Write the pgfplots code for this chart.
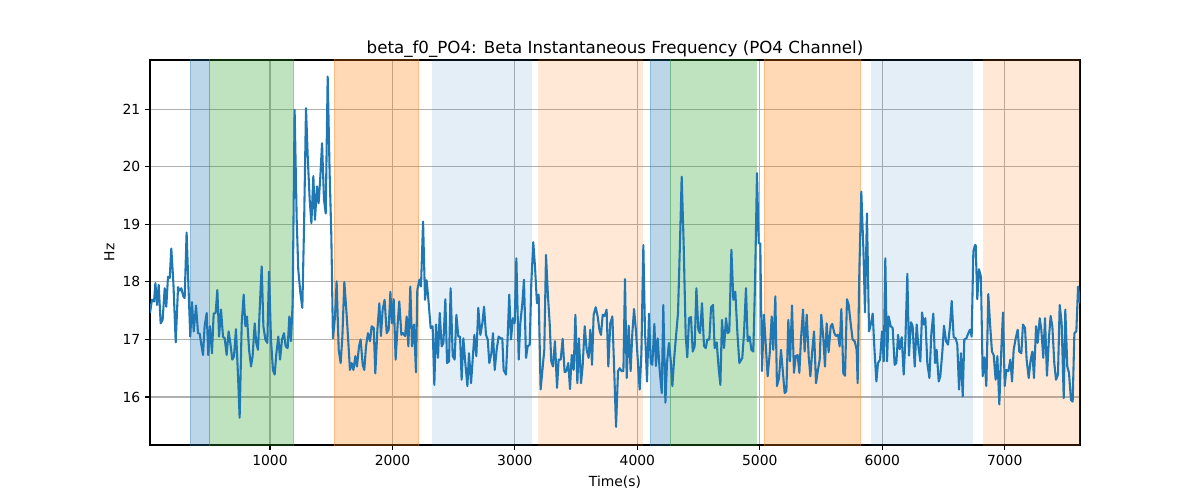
\documentclass[border=0pt]{standalone}
\usepackage{fontspec}
\setmainfont{DejaVu Sans}
\usepackage{pgfplots}
\pgfplotsset{compat=1.18}
\definecolor{mplblue}{HTML}{1F77B4}
\definecolor{mplorange}{HTML}{FF7F0E}
\definecolor{mplgreen}{HTML}{2CA02C}
\definecolor{gridgray}{HTML}{B0B0B0}

\begin{document}
\begin{tikzpicture}
\begin{axis}[
  at={(108pt,39.6pt)}, anchor=south west,
  width=669.6pt, height=277.2pt, scale only axis,
  xmin=20, xmax=7615, ymin=15.166, ymax=21.857,
  xtick={1000,2000,...,7000}, ytick={16,17,...,21},
  grid=major, grid style={gridgray, line width=0.8pt},
  axis line style={line width=0.8pt},
  tick align=outside, major tick length=3.5pt,
  tick style={black, line width=0.8pt},
  xtick pos=bottom, ytick pos=left,
  tick label style={font=\fontsize{10}{12}\selectfont},
  /pgf/number format/assume math mode=true,
  /pgf/number format/1000 sep={},
  xlabel={Time(s)}, ylabel={Hz},
  label style={font=\fontsize{10}{12}\selectfont},
  xlabel style={yshift=-0.5pt},
  ylabel style={yshift=-1pt},
  title={beta\_f0\_PO4: Beta Instantaneous Frequency (PO4 Channel)},
  title style={font=\fontsize{12}{14}\selectfont, yshift=-7.5pt},
]
% shaded spans
\addplot[fill=mplblue, fill opacity=0.3, draw=mplblue, draw opacity=0.3] coordinates {(347,15) (347,22) (507,22) (507,15)} -- cycle;
\addplot[fill=mplgreen, fill opacity=0.3, draw=mplgreen, draw opacity=0.3] coordinates {(507,15) (507,22) (1192,22) (1192,15)} -- cycle;
\addplot[fill=mplorange, fill opacity=0.3, draw=mplorange, draw opacity=0.3] coordinates {(1523,15) (1523,22) (2214,22) (2214,15)} -- cycle;
\addplot[fill=mplblue, fill opacity=0.12, draw=none] coordinates {(2325,15) (2325,22) (3140,22) (3140,15)} -- cycle;
\addplot[fill=mplorange, fill opacity=0.17, draw=none] coordinates {(3189,15) (3189,22) (4043,22) (4043,15)} -- cycle;
\addplot[fill=mplblue, fill opacity=0.3, draw=mplblue, draw opacity=0.3] coordinates {(4103,15) (4103,22) (4267,22) (4267,15)} -- cycle;
\addplot[fill=mplgreen, fill opacity=0.3, draw=mplgreen, draw opacity=0.3] coordinates {(4267,15) (4267,22) (4972,22) (4972,15)} -- cycle;
\addplot[fill=mplorange, fill opacity=0.3, draw=mplorange, draw opacity=0.3] coordinates {(5034,15) (5034,22) (5824,22) (5824,15)} -- cycle;
\addplot[fill=mplblue, fill opacity=0.12, draw=none] coordinates {(5911,15) (5911,22) (6739,22) (6739,15)} -- cycle;
\addplot[fill=mplorange, fill opacity=0.17, draw=none] coordinates {(6823,15) (6823,22) (7615,22) (7615,15)} -- cycle;
% signal
\addplot[mplblue, line width=1.5pt, line join=round, mark=none] coordinates {
(20,17.46) (36,17.69) (53,17.66) (64,17.98) (77,17.60) (91,17.95) (107,17.28) (123,17.34)
(140,17.89) (153,17.57) (167,18.09) (181,18.07) (194,18.58) (211,17.98) (230,16.95) (249,17.91)
(262,17.85) (276,17.89) (292,17.75) (303,17.72) (319,18.86) (333,17.98) (349,17.05) (363,17.65)
(377,17.14) (396,17.59) (412,17.11) (426,17.10) (439,16.91) (453,16.73) (466,17.23) (483,17.46)
(496,16.73) (510,17.23) (526,16.76) (540,17.45) (556,17.46) (570,17.86) (584,17.05) (600,17.52)
(616,17.05) (630,17.02) (646,16.73) (662,17.14) (676,16.94) (692,16.65) (706,16.71) (722,17.18)
(739,16.36) (752,15.64) (769,17.28) (785,17.78) (799,17.23) (812,17.40) (829,16.82) (845,16.53)
(858,16.71) (875,17.28) (888,16.94) (902,16.82) (918,17.63) (932,18.27) (946,17.23) (962,17.00)
(978,16.94) (992,18.18) (1008,17.00) (1024,16.47) (1038,16.39) (1052,16.76) (1068,17.05) (1082,16.65)
(1098,17.00) (1114,17.11) (1128,16.88) (1144,16.85) (1158,17.40) (1171,16.97) (1185,17.63) (1201,20.99)
(1218,19.08) (1231,18.21) (1248,17.81) (1264,17.55) (1278,18.96) (1294,21.02) (1308,20.18) (1324,19.43)
(1338,19.02) (1354,19.84) (1367,19.08) (1384,19.66) (1397,19.37) (1411,19.83) (1425,20.41) (1441,19.43)
(1455,19.19) (1471,21.57) (1487,19.89) (1501,18.79) (1514,17.02) (1531,17.40) (1544,18.01) (1561,16.82)
(1577,16.59) (1591,17.05) (1607,18.00) (1623,17.52) (1637,17.05) (1653,16.47) (1667,16.59) (1681,16.47)
(1697,16.71) (1710,16.53) (1727,16.88) (1740,17.00) (1757,16.56) (1770,16.47) (1784,16.88) (1800,17.11)
(1817,16.97) (1830,17.23) (1847,17.20) (1860,16.41) (1877,17.17) (1893,17.63) (1906,17.06) (1920,17.52)
(1936,17.69) (1953,17.11) (1969,17.17) (1983,17.83) (1996,17.28) (2010,17.70) (2026,16.65) (2043,17.28)
(2056,17.66) (2073,17.08) (2086,17.11) (2103,17.06) (2116,17.40) (2130,16.88) (2146,17.92) (2160,16.88)
(2176,17.26) (2192,16.43) (2203,17.86) (2220,18.04) (2233,17.92) (2250,19.05) (2266,17.69) (2279,18.03)
(2296,17.63) (2312,17.20) (2328,17.23) (2342,16.21) (2356,17.26) (2372,16.68) (2386,17.46) (2402,16.88)
(2416,16.94) (2432,17.70) (2446,16.59) (2462,16.62) (2475,17.89) (2492,16.71) (2508,16.65) (2522,17.43)
(2538,17.05) (2552,17.05) (2565,16.30) (2579,17.02) (2595,16.59) (2612,16.19) (2625,16.76) (2642,16.24)
(2655,16.65) (2669,17.08) (2685,16.71) (2701,17.55) (2718,17.08) (2734,17.28) (2748,17.57) (2764,17.08)
(2778,17.00) (2791,16.59) (2808,16.76) (2821,17.11) (2835,16.47) (2851,16.82) (2867,17.05) (2884,17.02)
(2897,17.02) (2908,16.47) (2927,16.39) (2941,17.05) (2954,17.78) (2968,17.00) (2984,17.37) (2998,17.28)
(3012,18.41) (3031,16.65) (3044,17.28) (3061,17.63) (3074,18.04) (3091,16.68) (3104,16.88) (3121,16.91)
(3134,17.98) (3150,18.69) (3164,18.27) (3180,17.63) (3194,17.78) (3210,16.13) (3224,16.45) (3240,16.82)
(3254,18.47) (3270,17.75) (3284,17.28) (3297,16.62) (3311,16.53) (3327,16.97) (3344,16.16) (3357,16.65)
(3374,16.65) (3390,17.01) (3406,16.43) (3420,16.45) (3436,16.59) (3450,16.14) (3464,16.73) (3480,16.47)
(3494,17.43) (3510,16.24) (3523,17.02) (3540,16.24) (3553,16.53) (3570,17.23) (3586,16.82) (3602,16.68)
(3616,17.17) (3630,16.56) (3643,17.43) (3660,17.56) (3676,17.40) (3690,17.17) (3703,17.08) (3717,17.43)
(3733,17.41) (3749,17.52) (3763,16.53) (3779,17.28) (3796,17.40) (3809,16.59) (3826,15.48) (3842,16.45)
(3856,16.50) (3872,16.45) (3886,16.45) (3899,18.05) (3913,16.33) (3929,17.24) (3945,16.45) (3959,17.11)
(3973,17.53) (3989,17.14) (4005,16.59) (4019,16.13) (4033,16.76) (4049,18.64) (4062,17.17) (4079,16.27)
(4095,17.45) (4109,16.59) (4122,16.56) (4139,17.27) (4152,16.54) (4166,17.02) (4182,16.47) (4199,16.07)
(4212,17.60) (4229,15.90) (4242,16.59) (4258,16.94) (4272,16.65) (4286,16.19) (4302,16.71) (4318,17.11)
(4332,17.46) (4348,18.67) (4362,19.83) (4378,18.67) (4395,17.05) (4408,16.69) (4422,17.37) (4438,17.39)
(4452,16.79) (4468,16.88) (4482,17.89) (4498,17.17) (4512,17.11) (4528,17.63) (4544,16.89) (4558,16.85)
(4572,17.00) (4588,17.00) (4602,17.56) (4618,17.60) (4631,16.85) (4648,16.95) (4664,16.50) (4678,16.21)
(4691,17.34) (4708,16.85) (4724,17.37) (4738,17.11) (4751,17.14) (4768,18.56) (4784,17.69) (4800,17.83)
(4817,17.11) (4833,16.59) (4857,16.68) (4871,17.11) (4887,17.89) (4901,16.97) (4917,17.05) (4931,16.82)
(4947,16.79) (4961,17.98) (4977,19.89) (4991,18.67) (5004,18.67) (5018,16.45) (5034,17.43) (5051,16.82)
(5064,16.36) (5081,16.76) (5097,17.40) (5110,16.82) (5127,17.75) (5140,16.19) (5157,16.33) (5173,16.82)
(5187,16.47) (5203,16.07) (5217,16.10) (5233,17.34) (5247,16.62) (5263,17.59) (5279,16.42) (5293,16.71)
(5309,16.73) (5323,16.42) (5336,17.00) (5353,17.52) (5366,16.79) (5383,17.43) (5399,16.71) (5413,16.36)
(5429,16.82) (5443,17.14) (5459,16.24) (5475,16.47) (5489,16.65) (5502,17.43) (5519,17.02) (5532,16.53)
(5546,17.28) (5562,16.78) (5579,17.23) (5592,17.27) (5609,17.11) (5622,17.06) (5639,17.08) (5652,16.88)
(5666,17.53) (5682,16.41) (5696,16.37) (5712,17.70) (5726,17.60) (5742,17.28) (5758,17.00) (5775,16.97)
(5791,16.82) (5799,16.24) (5813,18.21) (5829,19.57) (5846,18.56) (5859,17.47) (5875,19.19) (5892,17.14)
(5908,17.28) (5922,17.45) (5935,16.88) (5952,16.27) (5965,16.59) (5982,16.65) (5998,17.14) (6012,16.62)
(6025,18.41) (6039,16.62) (6052,17.40) (6069,17.23) (6085,17.20) (6101,16.56) (6115,16.59) (6129,17.08)
(6142,16.83) (6159,17.04) (6175,16.39) (6189,17.00) (6205,18.14) (6218,16.72) (6235,17.30) (6248,17.23)
(6265,16.53) (6281,17.26) (6295,16.88) (6311,16.62) (6325,17.47) (6338,17.26) (6352,17.37) (6368,16.59)
(6385,16.33) (6401,17.11) (6417,17.45) (6431,16.59) (6444,16.82) (6461,16.27) (6474,16.36) (6491,16.79)
(6504,17.24) (6521,16.97) (6537,16.91) (6553,17.23) (6567,17.67) (6583,17.04) (6600,17.02) (6613,16.91)
(6627,16.13) (6643,16.76) (6657,16.01) (6670,17.00) (6687,17.02) (6703,17.11) (6717,17.17) (6730,17.05)
(6744,18.53) (6757,18.64) (6763,18.64) (6776,17.70) (6790,18.22) (6806,18.09) (6820,16.36) (6834,16.69)
(6850,16.19) (6866,17.79) (6880,17.28) (6896,16.79) (6910,16.73) (6926,16.30) (6940,16.71) (6956,15.87)
(6970,16.71) (6986,17.47) (7000,16.19) (7013,16.47) (7030,16.45) (7046,16.65) (7060,16.27) (7073,16.82)
(7090,17.02) (7106,17.17) (7119,16.79) (7136,16.76) (7149,17.26) (7166,17.20) (7179,16.65) (7196,16.33)
(7212,16.65) (7226,16.79) (7239,16.33) (7256,17.23) (7269,16.94) (7286,17.37) (7299,17.17) (7315,16.68)
(7329,17.37) (7345,16.37) (7362,17.05) (7375,17.41) (7389,17.23) (7405,16.59) (7419,16.30) (7435,16.39)
(7449,17.60) (7465,17.28) (7482,15.98) (7495,17.52) (7511,16.53) (7525,16.42) (7541,15.95) (7555,15.92)
(7569,17.11) (7585,17.14) (7599,17.92) (7615,17.63)
};
\end{axis}
\pgfresetboundingbox
\path[use as bounding box] (0pt,0pt) rectangle (864pt,360pt);
\end{tikzpicture}
\end{document}
